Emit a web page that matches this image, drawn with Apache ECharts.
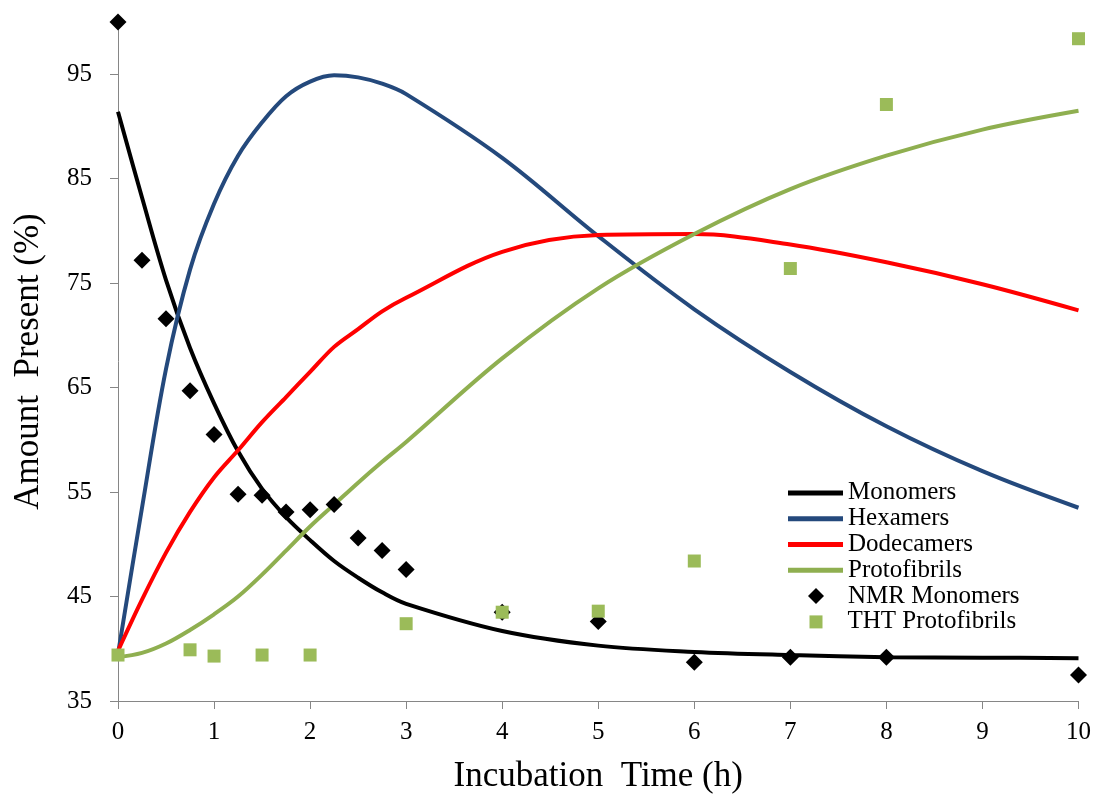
<!DOCTYPE html>
<html>
<head>
<meta charset="utf-8">
<script src="https://cdn.jsdelivr.net/npm/echarts@6/dist/echarts.min.js"></script>
<style>
html,body{margin:0;padding:0;background:#fff;}
#chart{width:1094px;height:799px;}
</style>
</head>
<body>
<div id="chart"></div>
<script>
// Model curves (fitted)
const fitTime = [0,0.25,0.5,0.75,1,1.25,1.5,1.75,2,2.25,2.5,2.75,3,4,5,6,7,8,9,10];
const monomers = [91.4,83.2,75.3,68.8,63.5,58.9,55.3,52.6,50.4,48.4,46.8,45.4,44.3,41.7,40.3,39.7,39.4,39.2,39.15,39.1];
const hexamers = [39.5,53.5,66.8,76.3,82.6,87.2,90.4,92.9,94.3,94.9,94.7,94.1,93.1,87.0,79.5,72.5,66.5,61.3,57.0,53.5];
const dodecamers = [39.8,44.7,49.2,53.1,56.4,59.0,61.7,64.1,66.5,68.9,70.6,72.3,73.6,78.0,79.6,79.7,78.7,77.0,74.9,72.4];
const protofibrils = [39.2,39.6,40.5,41.8,43.3,45.0,47.1,49.4,51.7,53.8,55.9,57.9,59.8,67.8,74.5,79.7,84.0,87.2,89.7,91.5];

// Experimental points
const nmrTime = [0,0.25,0.5,0.75,1,1.25,1.5,1.75,2,2.25,2.5,2.75,3,4,5,6,7,8,10];
const nmrMonomers = [100,77.2,71.6,64.7,60.5,54.8,54.7,53.1,53.3,53.8,50.6,49.4,47.6,43.5,42.6,38.7,39.2,39.2,37.5];
const thtTime = [0,0.75,1,1.5,2,3,4,5,6,7,8,10];
const thtProtofibrils = [39.4,39.9,39.3,39.4,39.4,42.4,43.5,43.6,48.4,76.4,92.1,98.4];

const yTicks = [35,45,55,65,75,85,95];
const lineNames = ['Monomers','Hexamers','Dodecamers','Protofibrils'];
const nmrName = 'NMR Monomers';
const thtName = 'THT Protofibrils';

const pair = (xs, ys) => xs.map((x, i) => [x, ys[i]]);
const FONT = 'Liberation Serif';
const axisGray = '#868686';
const ROW = 25.8;
const LEG_TOP = 480;

const lineSeries = (name, data, color) => ({
  name, type: 'line', data: pair(fitTime, data), symbol: 'none', smooth: 0.35,
  lineStyle: { color, width: 4 }, itemStyle: { color }, clip: false, z: 2
});

const legText = (padLeft) => ({ fontFamily: FONT, fontSize: 25, color: '#000', lineHeight: ROW, padding: [0,0,0,padLeft] });

const chart = echarts.init(document.getElementById('chart'), null, { renderer: 'canvas' });
chart.setOption({
  animation: false,
  backgroundColor: '#fff',
  grid: { left: 118, right: 14, top: 22, bottom: 98, containLabel: false },
  xAxis: {
    type: 'value', min: 0, max: 10, interval: 1,
    name: 'Incubation  Time (h)', nameLocation: 'middle', nameGap: 58,
    nameTextStyle: { fontFamily: FONT, fontSize: 35, color: '#000' },
    axisLine: { show: true, lineStyle: { color: axisGray, width: 1 } },
    axisTick: { show: true, inside: false, length: 8, lineStyle: { color: axisGray } },
    axisLabel: { fontFamily: FONT, fontSize: 25, color: '#000', margin: 19 },
    splitLine: { show: false }
  },
  yAxis: {
    type: 'value', min: 35, max: 100,
    name: 'Amount  Present (%)', nameLocation: 'middle', nameGap: 72,
    nameTextStyle: { fontFamily: FONT, fontSize: 35, color: '#000' },
    axisLine: { show: true, lineStyle: { color: axisGray, width: 1 } },
    axisTick: { show: true, inside: false, length: 8, lineStyle: { color: axisGray }, customValues: yTicks },
    axisLabel: { fontFamily: FONT, fontSize: 25, color: '#000', margin: 26, customValues: yTicks },
    splitLine: { show: false }
  },
  legend: [
    {
      orient: 'vertical', left: 788, top: LEG_TOP, padding: 0,
      itemWidth: 55, itemHeight: 5, itemGap: 0, icon: 'rect',
      textStyle: legText(0),
      data: lineNames
    },
    {
      orient: 'vertical', left: 808, top: LEG_TOP + 4 * ROW, padding: 0,
      itemWidth: 16, itemHeight: 16, itemGap: 0, icon: 'diamond',
      textStyle: legText(19),
      data: [nmrName]
    },
    {
      orient: 'vertical', left: 809.5, top: LEG_TOP + 5 * ROW, padding: 0,
      itemWidth: 13, itemHeight: 13, itemGap: 0, icon: 'rect',
      textStyle: legText(20),
      data: [thtName]
    }
  ],
  series: [
    lineSeries(lineNames[0], monomers, '#000000'),
    lineSeries(lineNames[1], hexamers, '#24497C'),
    lineSeries(lineNames[2], dodecamers, '#FF0000'),
    lineSeries(lineNames[3], protofibrils, '#8FAF50'),
    {
      name: nmrName, type: 'scatter', data: pair(nmrTime, nmrMonomers),
      symbol: 'diamond', symbolSize: 17, itemStyle: { color: '#000000', opacity: 1 }, clip: false, z: 3
    },
    {
      name: thtName, type: 'scatter', data: pair(thtTime, thtProtofibrils),
      symbol: 'rect', symbolSize: 13, itemStyle: { color: '#9BBB59', opacity: 1 }, clip: false, z: 4
    }
  ]
});
</script>
</body>
</html>
